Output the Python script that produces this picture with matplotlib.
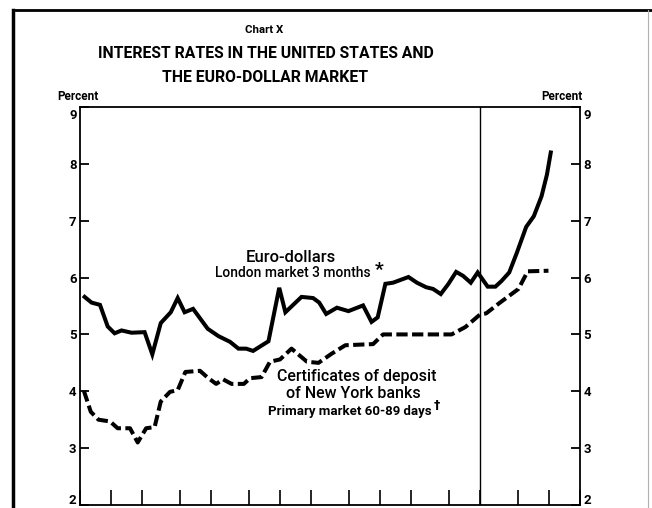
import matplotlib
matplotlib.use("Agg")
import matplotlib.pyplot as plt
from matplotlib.lines import Line2D
import matplotlib.transforms as mtransforms

# ---- data (weeks from start of chart, percent) ----
euro_weeks = [0.6, 1.5, 2.6, 3.6, 4.5, 5.4, 6.7, 8.4, 9.4, 10.5, 11.8, 12.7, 13.6, 14.7,
              16.6, 18.0, 19.5, 20.6, 21.6, 22.5, 24.5, 25.9, 26.7, 28.8, 30.3, 31.1,
              32.0, 33.4, 34.9, 36.8, 37.9, 38.7, 39.7, 40.7, 42.7, 43.8, 45.0, 45.9,
              46.9, 47.9, 48.9, 49.8, 50.8, 51.7, 53.0, 54.0, 54.8, 55.8, 56.8, 58.0,
              59.0, 60.0, 60.7, 61.2]
euro_rate = [5.66, 5.56, 5.52, 5.14, 5.02, 5.07, 5.03, 5.04, 4.65, 5.20, 5.39, 5.64, 5.39, 5.45,
             5.10, 4.97, 4.87, 4.75, 4.75, 4.71, 4.88, 5.82, 5.39, 5.66, 5.64, 5.56,
             5.36, 5.47, 5.41, 5.51, 5.22, 5.30, 5.89, 5.91, 6.01, 5.91, 5.83, 5.80,
             5.71, 5.89, 6.10, 6.03, 5.91, 6.09, 5.84, 5.84, 5.94, 6.09, 6.44, 6.89,
             7.08, 7.43, 7.81, 8.20]

cd_weeks = [0.5, 1.4, 2.4, 3.9, 4.9, 6.5, 7.5, 8.6, 9.7, 10.5, 11.7, 12.7, 13.7, 15.6,
            16.6, 17.7, 18.6, 19.7, 21.3, 22.1, 23.6, 24.7, 26.0, 27.5, 29.5, 31.0,
            32.7, 34.5, 38.1, 39.4, 48.3, 50.1, 52.0, 52.8, 54.6, 57.0, 58.2, 60.9]
cd_rate = [4.01, 3.64, 3.50, 3.47, 3.35, 3.35, 3.10, 3.35, 3.37, 3.82, 3.99, 4.02, 4.34, 4.36,
           4.24, 4.13, 4.21, 4.13, 4.13, 4.23, 4.25, 4.52, 4.56, 4.75, 4.52, 4.50,
           4.66, 4.81, 4.83, 5.00, 5.00, 5.13, 5.35, 5.37, 5.56, 5.80, 6.11, 6.12]

month_ticks = [0, 4, 8, 13, 17, 22, 26, 30, 35, 39, 43, 48, 52, 57, 61, 65]
year_break = 52
y_ticks = [2, 3, 4, 5, 6, 7, 8, 9]

title_top = "Chart X"
title_line1 = "INTEREST RATES IN THE UNITED STATES AND"
title_line2 = "THE EURO-DOLLAR MARKET"
euro_label = "Euro-dollars"
euro_sub = "London market 3 months"
cd_label1 = "Certificates of deposit"
cd_label2 = "of New York banks"
cd_sub = "Primary market 60-89 days"

W, H = 652, 508
FONT = ['Roboto', 'DejaVu Sans']
plt.rcParams['font.family'] = FONT
fig = plt.figure(figsize=(W / 100, H / 100), dpi=100)

def fx(px):
    return px / W

def fy(py):
    return 1 - py / H

ax = fig.add_axes([fx(80), fy(505), fx(580) - fx(80), fy(107) - fy(505)])
ax.set_xlim(0, 65)
ax.set_ylim(2, 9)

ax.plot(euro_weeks, euro_rate, color='black', lw=2.9, solid_joinstyle='miter')
ax.plot(cd_weeks, cd_rate, color='black', lw=2.9, linestyle=(0, (2.8, 1.1)),
        dash_capstyle='butt')
ax.axvline(year_break, color='black', lw=1.0)

for s in ax.spines.values():
    s.set_linewidth(1.3)

ax.set_xticks(month_ticks)
ax.set_xticklabels([])
ax.tick_params(axis='x', direction='in', length=11, width=1.2, top=False)
ax.set_yticks(y_ticks)
ax.set_yticklabels([str(v) for v in y_ticks])
ax.tick_params(axis='y', direction='in', length=6.5, width=1.3, left=True, right=True,
               labelleft=True, labelright=True, pad=2.5, labelsize=9.5)
up = mtransforms.ScaledTranslation(0, 4 / 72, fig.dpi_scale_trans)
down = mtransforms.ScaledTranslation(0, -5 / 72, fig.dpi_scale_trans)
for t in ax.yaxis.get_major_ticks():
    txt = t.label1.get_text()
    if txt == '2':
        t.label1.set_transform(t.label1.get_transform() + up)
        t.label2.set_transform(t.label2.get_transform() + up)
    elif txt == '9':
        t.label1.set_transform(t.label1.get_transform() + down)
        t.label2.set_transform(t.label2.get_transform() + down)
    t.label1.set_fontweight('bold')
    t.label2.set_fontweight('bold')

# text annotations
fig.text(fx(264), fy(30), title_top, ha='center', va='center', fontsize=8.2, fontweight='bold')
fig.text(fx(266), fy(54), title_line1, ha='center', va='center', fontsize=11.3,
         fontweight='bold')
fig.text(fx(265), fy(77), title_line2, ha='center', va='center', fontsize=11.3,
         fontweight='bold')
fig.text(fx(57), fy(97), "Percent", ha='left', va='center', fontsize=8.5, fontweight='bold')
fig.text(fx(583), fy(97), "Percent", ha='right', va='center', fontsize=8.5, fontweight='bold')

fig.text(fx(291), fy(257), euro_label, ha='center', va='center', fontsize=12,
         fontweight='medium')
fig.text(fx(293), fy(273), euro_sub, ha='center', va='center', fontsize=10,
         fontweight='medium')
fig.text(fx(379), fy(270), "*", ha='center', va='center', fontsize=14, fontweight='bold')
fig.text(fx(357), fy(377), cd_label1, ha='center', va='center', fontsize=11.5,
         fontweight='medium')
fig.text(fx(353), fy(393), cd_label2, ha='center', va='center', fontsize=11.5,
         fontweight='medium')
fig.text(fx(350), fy(412), cd_sub, ha='center', va='center', fontsize=9.5, fontweight='bold')
fig.text(fx(437), fy(405), "\u2020", ha='center', va='center', fontsize=9, fontweight='bold',
         family=['DejaVu Sans'])

# outer frame of the page
fig.add_artist(Line2D([fx(13), fx(13)], [fy(10), 0], transform=fig.transFigure,
                      color='black', lw=2.5))
fig.add_artist(Line2D([fx(13), 1], [fy(10), fy(10)], transform=fig.transFigure,
                      color='black', lw=2.0))
fig.add_artist(Line2D([fx(648), fx(648)], [fy(10), 0], transform=fig.transFigure,
                      color='#b0b0b0', lw=0.8))

fig.savefig("out.png", dpi=100)
